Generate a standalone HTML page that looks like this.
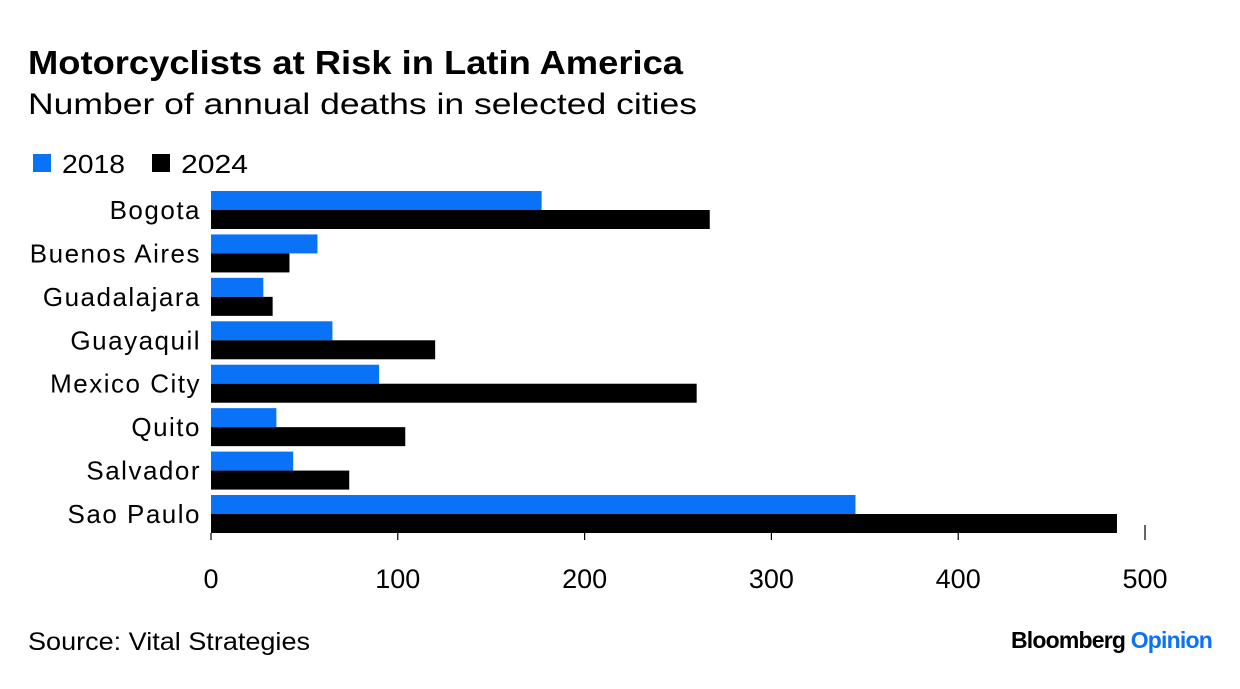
<!DOCTYPE html>
<html><head><meta charset="utf-8"><style>
body{margin:0;background:#fff;width:1240px;height:684px;overflow:hidden;font-family:"Liberation Sans",Arial,sans-serif}
svg text{font-family:"Liberation Sans",Arial,sans-serif}
</style></head><body>
<svg id="c" width="1240" height="684">
<text x="28" y="74" font-size="33" font-weight="bold" fill="#000" textLength="655" lengthAdjust="spacingAndGlyphs">Motorcyclists at Risk in Latin America</text>
<text x="28" y="114" font-size="30" fill="#000" textLength="669" lengthAdjust="spacingAndGlyphs">Number of annual deaths in selected cities</text>
<g>
<rect x="33" y="154" width="18" height="18" fill="#0a72f6"/>
<text x="62" y="173" font-size="26" textLength="63" lengthAdjust="spacingAndGlyphs">2018</text>
<rect x="152" y="154" width="18" height="18" fill="#000"/>
<text x="181" y="173" font-size="26" textLength="67" lengthAdjust="spacingAndGlyphs">2024</text>
</g>
<g id="plot"></g>
<text x="28" y="650" font-size="25" textLength="282" lengthAdjust="spacingAndGlyphs">Source: Vital Strategies</text>
<text x="1212" y="648" font-size="23" font-weight="bold" text-anchor="end" letter-spacing="-0.8">Bloomberg <tspan fill="#0a72f6">Opinion</tspan></text>
</svg>
<script>
const categories=["Bogota","Buenos Aires","Guadalajara","Guayaquil","Mexico City","Quito","Salvador","Sao Paulo"];
const values2018=[177,57,28,65,90,35,44,345];
const values2024=[267,42,33,120,260,104,74,485];
const ticks=[0,100,200,300,400,500];
const NS="http://www.w3.org/2000/svg";
const g=document.getElementById('plot');
const x=v=>211+v*1.868;
const y=i=>191+i*43.43;
function mk(t,a){const e=document.createElementNS(NS,t);for(const k in a)e.setAttribute(k,a[k]);g.appendChild(e);return e;}
categories.forEach((c,i)=>{
 const r1=mk('rect',{x:x(0),y:y(i),width:x(values2018[i])-x(0),height:19,fill:'#0a72f6'});
 
 
 const r2=mk('rect',{x:x(0),y:y(i)+19,width:x(values2024[i])-x(0),height:19,fill:'#000'});
 
 
 const t=mk('text',{x:201,y:y(i)+28,'font-size':26,'text-anchor':'end','letter-spacing':1.5});
 t.textContent=c;
 
 
});
ticks.forEach((v,i)=>{
 const l=mk('line',{x1:x(v),x2:x(v),y1:v===500?525:533,y2:540,stroke:'#000','stroke-width':1.2});
 
 
 const t=mk('text',{x:x(v),y:588,'font-size':27,'text-anchor':'middle'});
 t.textContent=v;
 
 
});
</script>
</body></html>
